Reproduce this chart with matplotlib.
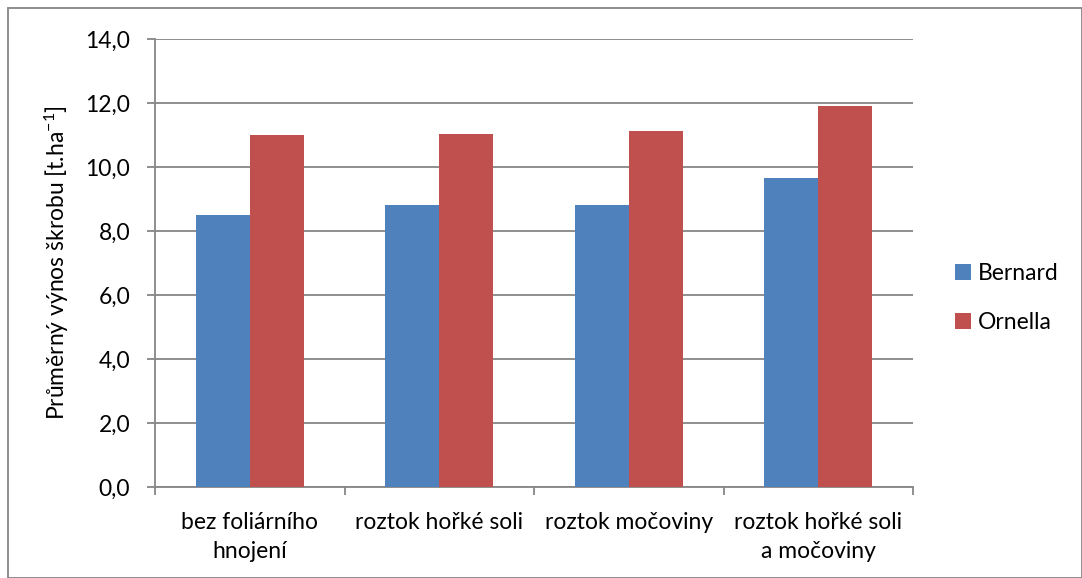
import matplotlib
matplotlib.use("Agg")
import matplotlib.pyplot as plt
import numpy as np
from matplotlib.patches import Rectangle

plt.rcParams['font.family'] = ['Lato', 'DejaVu Sans']
plt.rcParams['mathtext.fontset'] = 'custom'
plt.rcParams['mathtext.rm'] = 'Lato'
plt.rcParams['mathtext.it'] = 'Lato'
plt.rcParams['mathtext.default'] = 'regular'

categories = ["bez foliárního\nhnojení", "roztok hořké soli", "roztok močoviny",
              "roztok hořké soli\na močoviny"]
bernard = [8.5, 8.8, 8.8, 9.65]
ornella = [11.0, 11.03, 11.12, 11.9]
series_names = ["Bernard", "Ornella"]
colors = ["#4F81BD", "#C0504D"]
y_ticks = [0, 2, 4, 6, 8, 10, 12, 14]

FS = 16.5
W, H = 1082, 578
fig = plt.figure(figsize=(W / 100, H / 100), dpi=100)
ax = fig.add_axes([155 / W, 1 - 487 / H, (913 - 155) / W, (487 - 39) / H])

x = np.arange(len(categories))
bw = 1 / 3.5
ax.bar(x - bw / 2, bernard, bw, color=colors[0], label=series_names[0], zorder=3)
ax.bar(x + bw / 2, ornella, bw, color=colors[1], label=series_names[1], zorder=3)

ax.set_xlim(-0.5, len(categories) - 0.5)
ax.set_ylim(0, 14)
ax.set_yticks(y_ticks)
ax.set_yticklabels([f"{v:.1f}".replace(".", ",") for v in y_ticks], fontsize=FS)
ax.yaxis.grid(True, color="#868686", linewidth=1.3, zorder=0)

ax.set_xticks(np.arange(len(categories) + 1) - 0.5)
ax.set_xticklabels([])
ax.set_xticks(x, minor=True)
ax.set_xticklabels(categories, minor=True, fontsize=FS, linespacing=1.5)
ax.tick_params(axis="x", which="minor", length=0, pad=18)
ax.tick_params(axis="x", which="major", length=6, color="#868686", width=1.3)
ax.tick_params(axis="y", length=6, color="#868686", width=1.3, pad=12)

for s in ["top", "right"]:
    ax.spines[s].set_visible(False)
for s in ["left", "bottom"]:
    ax.spines[s].set_color("#868686")
    ax.spines[s].set_linewidth(1.3)

ax.set_ylabel("Průměrný výnos škrobu [t.ha$^{-1}$]", fontsize=FS, labelpad=10)

ax.legend(loc="center left", bbox_to_anchor=(934 / W, 1 - 298 / H),
          bbox_transform=fig.transFigure, frameon=False, fontsize=FS,
          handlelength=0.7, handleheight=0.7, handletextpad=0.3,
          labelspacing=1.2)

fig.patches.append(Rectangle((8 / W, 0), (W - 8) / W, 1 - 8 / H,
                             transform=fig.transFigure, fill=False,
                             edgecolor="#868686", linewidth=1.3))

fig.savefig("out.png", dpi=100)
